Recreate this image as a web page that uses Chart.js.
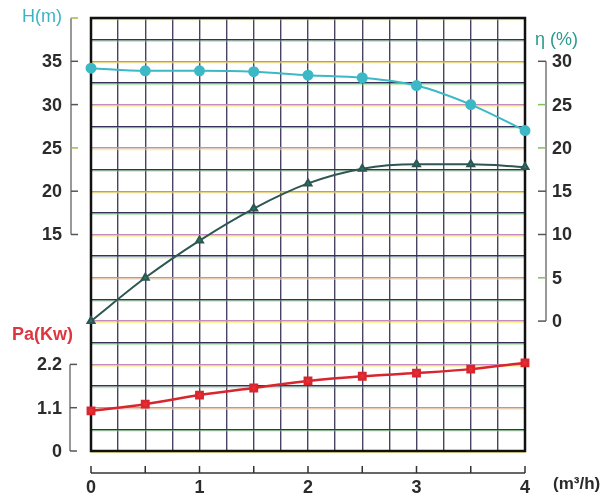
<!DOCTYPE html>
<html>
<head>
<meta charset="utf-8">
<script src="https://cdn.jsdelivr.net/npm/chart.js@4/dist/chart.umd.min.js"></script>
<style>
  html, body { margin: 0; padding: 0; background: #fff; }
  #wrap { width: 606px; height: 496px; }
</style>
</head>
<body>
<div id="wrap"><canvas id="pumpChart" width="606" height="496"></canvas></div>
<script>
// flow rate Q (m3/h)
const flow = [0, 0.5, 1, 1.5, 2, 2.5, 3, 3.5, 4];
// head H (m)
const head = [34.2, 33.9, 33.9, 33.8, 33.4, 33.1, 32.2, 30.0, 27.0];
// efficiency (%)
const efficiency = [0, 5.0, 9.3, 13.0, 15.9, 17.6, 18.1, 18.1, 17.8];
// shaft power Pa (kW)
const power = [1.02, 1.19, 1.42, 1.60, 1.78, 1.90, 1.98, 2.08, 2.24];

const headTicks = [15, 20, 25, 30, 35, 40];
const powerTicks = [0, 1.1, 2.2];
const effTicks = [0, 5, 10, 15, 20, 25, 30];
const flowLabels = [0, 1, 2, 3, 4];
const flowMarks = [0, 0.5, 1, 1.5, 2, 2.5, 3, 3.5, 4];

const FONT = '"Liberation Sans", Arial, sans-serif';
const INK = '#2b2b2b';

const toPoints = (ys) => flow.map((x, i) => ({ x: x, y: ys[i] }));

// frame + scan-like tint under the grid lines
const framePlugin = {
    id: 'frame',
    beforeDatasetsDraw(chart) {
        const { ctx, chartArea: a, scales } = chart;
        ctx.save();
        scales.yH.ticks.forEach(t => {
            const y = scales.yH.getPixelForValue(t.value) + 1.5;
            ctx.strokeStyle = t.value % 5 === 0 ? 'rgba(236,232,70,0.55)' : 'rgba(120,210,110,0.45)';
            ctx.lineWidth = 1.5;
            ctx.beginPath();
            ctx.moveTo(a.left, y);
            ctx.lineTo(a.right, y);
            ctx.stroke();
        });
        ctx.strokeStyle = '#111';
        ctx.lineWidth = 2.5;
        ctx.strokeRect(a.left, a.top, a.right - a.left, a.bottom - a.top);
        ctx.restore();
    }
};

// side axes, brackets and labels
const axesPlugin = {
    id: 'sideAxes',
    afterDraw(chart) {
        const { ctx, chartArea: a, scales } = chart;
        const yH = scales.yH, yPa = scales.yPa, yEta = scales.yEta, x = scales.x;
        ctx.save();
        ctx.lineWidth = 1.5;
        ctx.strokeStyle = '#777';
        ctx.font = 'bold 18px ' + FONT;
        ctx.fillStyle = INK;
        ctx.textBaseline = 'middle';

        // H bracket
        const lx = a.left - 20;
        ctx.beginPath();
        ctx.moveTo(lx, yH.getPixelForValue(40));
        ctx.lineTo(lx, yH.getPixelForValue(15));
        ctx.stroke();
        ctx.textAlign = 'right';
        headTicks.forEach(v => {
            const py = yH.getPixelForValue(v);
            ctx.strokeStyle = v === 40 || v === 25 ? '#a8b840' : '#555';
            ctx.beginPath();
            ctx.moveTo(lx, py);
            ctx.lineTo(lx + 7, py);
            ctx.stroke();
            if (v !== 40) ctx.fillText(String(v), a.left - 29, py + 1);
        });

        // Pa bracket
        ctx.strokeStyle = '#777';
        ctx.beginPath();
        ctx.moveTo(lx - 1, yPa.getPixelForValue(2.2));
        ctx.lineTo(lx - 1, yPa.getPixelForValue(0));
        ctx.stroke();
        powerTicks.forEach(v => {
            const py = yPa.getPixelForValue(v);
            ctx.strokeStyle = '#555';
            ctx.beginPath();
            ctx.moveTo(lx - 1, py);
            ctx.lineTo(lx + 6, py);
            ctx.stroke();
            ctx.fillText(String(v), a.left - 29, py + 1);
        });

        // eta bracket
        const rx = a.right + 21;
        ctx.strokeStyle = '#777';
        ctx.beginPath();
        ctx.moveTo(rx, yEta.getPixelForValue(30));
        ctx.lineTo(rx, yEta.getPixelForValue(0));
        ctx.stroke();
        ctx.textAlign = 'left';
        effTicks.forEach(v => {
            const py = yEta.getPixelForValue(v);
            ctx.strokeStyle = v === 25 || v === 20 || v === 5 ? '#7fc060' : '#555';
            ctx.beginPath();
            ctx.moveTo(rx - 8, py);
            ctx.lineTo(rx, py);
            ctx.stroke();
            ctx.fillText(String(v), a.right + 27, py + 1);
        });

        // flow axis below the frame
        const by = a.bottom + 22;
        ctx.strokeStyle = '#333';
        ctx.beginPath();
        ctx.moveTo(x.getPixelForValue(0), by);
        ctx.lineTo(x.getPixelForValue(4), by);
        ctx.stroke();
        flowMarks.forEach(v => {
            const px = x.getPixelForValue(v);
            ctx.beginPath();
            ctx.moveTo(px, by);
            ctx.lineTo(px, by - 7);
            ctx.stroke();
        });
        ctx.textAlign = 'center';
        flowLabels.forEach(v => {
            ctx.fillText(String(v), x.getPixelForValue(v), by + 15);
        });

        // axis titles
        ctx.font = '18px ' + FONT;
        ctx.textAlign = 'right';
        ctx.fillStyle = '#3ab4c4';
        ctx.fillText('H(m)', a.left - 29, yH.getPixelForValue(40) - 1);
        ctx.font = 'bold 18px ' + FONT;
        ctx.fillStyle = '#e0343e';
        ctx.textAlign = 'left';
        ctx.fillText('Pa(Kw)', 12, yPa.getPixelForValue(2.95));
        ctx.font = '18px ' + FONT;
        ctx.fillStyle = '#2a9a8c';
        ctx.fillText('\u03B7 (%)', a.right + 10, yEta.getPixelForValue(32.4));
        ctx.font = 'bold 17px ' + FONT;
        ctx.fillStyle = INK;
        ctx.fillText('(m\u00B3/h)', a.right + 28, by + 11);
        ctx.restore();
    }
};

new Chart(document.getElementById('pumpChart'), {
    type: 'line',
    data: {
        datasets: [
            {
                label: 'H',
                data: toPoints(head),
                yAxisID: 'yH',
                borderColor: '#3cb8c6',
                backgroundColor: '#3cb8c6',
                borderWidth: 2,
                pointStyle: 'circle',
                pointRadius: 4.5,
                clip: false,
                cubicInterpolationMode: 'monotone'
            },
            {
                label: 'eta',
                data: toPoints(efficiency),
                yAxisID: 'yEta',
                borderColor: '#2e5652',
                backgroundColor: '#1f7a66',
                borderWidth: 2,
                pointStyle: 'triangle',
                pointRadius: 4,
                clip: false,
                cubicInterpolationMode: 'monotone'
            },
            {
                label: 'Pa',
                data: toPoints(power),
                yAxisID: 'yPa',
                borderColor: '#d8262e',
                backgroundColor: '#ec2a36',
                borderWidth: 2.5,
                pointStyle: 'rect',
                pointRadius: 4.5,
                clip: false,
                cubicInterpolationMode: 'monotone'
            }
        ]
    },
    options: {
        responsive: false,
        animation: false,
        layout: { padding: { top: 18, right: 81, left: 0, bottom: 0 } },
        plugins: { legend: { display: false }, tooltip: { enabled: false } },
        scales: {
            x: {
                type: 'linear',
                min: 0,
                max: 4,
                ticks: { display: false, stepSize: 0.25 },
                grid: { color: '#4a4262', lineWidth: 1.4, drawTicks: false },
                border: { display: false },
                afterFit: (s) => { s.height = 45; }
            },
            yH: {
                position: 'left',
                min: -10,
                max: 40,
                ticks: { display: false, stepSize: 2.5 },
                grid: {
                    drawTicks: false,
                    lineWidth: 1.4,
                    color: (c) => c.tick && c.tick.value % 5 === 0 ? '#c58ac0' : '#35305c'
                },
                border: { display: false },
                afterFit: (s) => { s.width = 91; }
            },
            yPa: { display: false, min: 0, max: 11 },
            yEta: { display: false, min: -15, max: 35 }
        }
    },
    plugins: [framePlugin, axesPlugin]
});
</script>
</body>
</html>
